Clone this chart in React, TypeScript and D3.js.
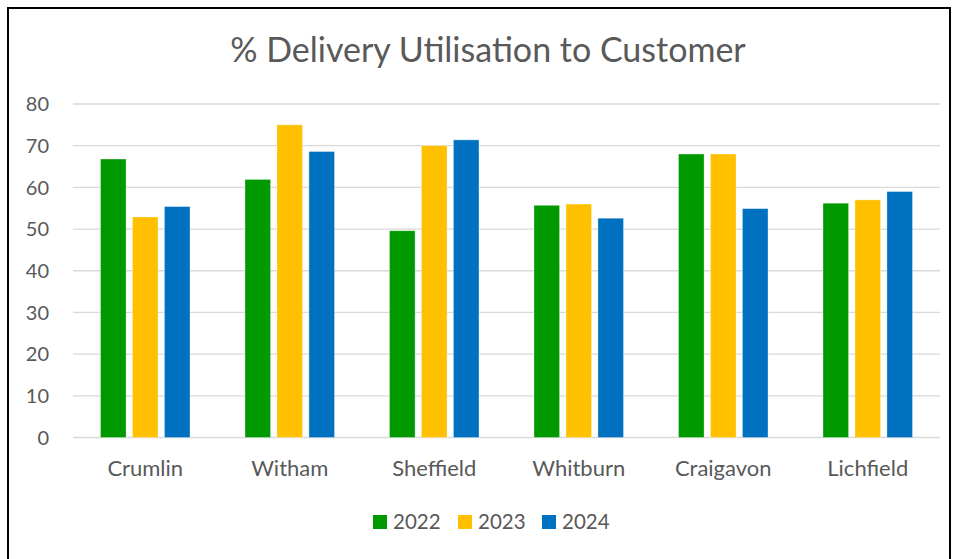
import { useEffect, useRef } from "react";
import * as d3 from "d3";

const sites = ["Crumlin", "Witham", "Sheffield", "Whitburn", "Craigavon", "Lichfield"];
const years = ["2022", "2023", "2024"];
const values2022 = [66.8, 61.9, 49.6, 55.7, 68.0, 56.2];
const values2023 = [52.9, 75.0, 70.0, 56.0, 68.0, 57.0];
const values2024 = [55.4, 68.6, 71.4, 52.6, 54.9, 59.0];
const yTicks = [0, 10, 20, 30, 40, 50, 60, 70, 80];
const yearColors = ["#009900", "#FFC000", "#0070C0"];

const FONT = "Lato, 'Open Sans', sans-serif";

export default function App() {
  const svgRef = useRef<SVGSVGElement | null>(null);

  useEffect(() => {
    if (!svgRef.current) return;
    const svg = d3.select(svgRef.current);
    svg.selectAll("*").remove();

    const width = 958;
    const height = 559;
    const left = 73;
    const right = 940;
    const top = 104;
    const bottom = 437.5;

    const series = [values2022, values2023, values2024];

    // frame round the chart area
    svg
      .append("rect")
      .attr("x", 8)
      .attr("y", 8)
      .attr("width", 942)
      .attr("height", 600)
      .attr("fill", "#fff")
      .attr("stroke", "#000")
      .attr("stroke-width", 2);

    const x = d3.scaleBand<string>().domain(sites).range([left, right]).paddingInner(0).paddingOuter(0);
    const x1 = d3.scaleBand<string>().domain(years).range([27.5, 117]).paddingInner(0.2);
    const y = d3.scaleLinear().domain([0, 80]).range([bottom, top]);

    svg
      .append("text")
      .attr("x", 488)
      .attr("y", 62)
      .attr("text-anchor", "middle")
      .attr("font-family", FONT)
      .attr("font-size", 34)
      .attr("fill", "#595959")
      .text("% Delivery Utilisation to Customer");

    const grid = svg.append("g");
    grid
      .selectAll("line")
      .data(yTicks)
      .join("line")
      .attr("x1", left)
      .attr("x2", right)
      .attr("y1", (d) => y(d))
      .attr("y2", (d) => y(d))
      .attr("stroke", "#d9d9d9")
      .attr("stroke-width", 1.3);

    grid
      .selectAll("text")
      .data(yTicks)
      .join("text")
      .attr("x", 49)
      .attr("y", (d) => y(d))
      .attr("dy", "0.36em")
      .attr("text-anchor", "end")
      .attr("font-family", FONT)
      .attr("font-size", 20)
      .attr("fill", "#595959")
      .text((d) => d);

    const groups = svg
      .append("g")
      .selectAll("g")
      .data(sites)
      .join("g")
      .attr("transform", (d) => `translate(${x(d)},0)`);

    groups
      .selectAll("rect")
      .data((_, i) => years.map((yr, k) => ({ yr, k, v: series[k][i] })))
      .join("rect")
      .attr("x", (d) => x1(d.yr)!)
      .attr("width", x1.bandwidth())
      .attr("y", (d) => y(d.v))
      .attr("height", (d) => bottom - y(d.v))
      .attr("fill", (d) => yearColors[d.k])
      .attr("stroke", "#fff")
      .attr("stroke-opacity", 0.4)
      .attr("stroke-width", 0.8);

    svg
      .append("g")
      .selectAll("text")
      .data(sites)
      .join("text")
      .attr("x", (d) => x(d)! + x.bandwidth() / 2)
      .attr("y", 476)
      .attr("text-anchor", "middle")
      .attr("font-family", FONT)
      .attr("font-size", 22)
      .attr("fill", "#595959")
      .text((d) => d);

    const legend = svg.append("g");
    const legendX = [373, 458, 542];
    years.forEach((yr, k) => {
      legend
        .append("rect")
        .attr("x", legendX[k])
        .attr("y", 515)
        .attr("width", 14)
        .attr("height", 14)
        .attr("fill", yearColors[k]);
      legend
        .append("text")
        .attr("x", legendX[k] + 20)
        .attr("y", 529)
        .attr("font-family", FONT)
        .attr("font-size", 20.5)
        .attr("fill", "#595959")
        .text(yr);
    });

    svg.attr("viewBox", `0 0 ${width} ${height}`);
  }, []);

  return (
    <svg
      ref={svgRef}
      width={958}
      height={559}
      style={{ position: "absolute", left: 0, top: 0, display: "block" }}
    />
  );
}
